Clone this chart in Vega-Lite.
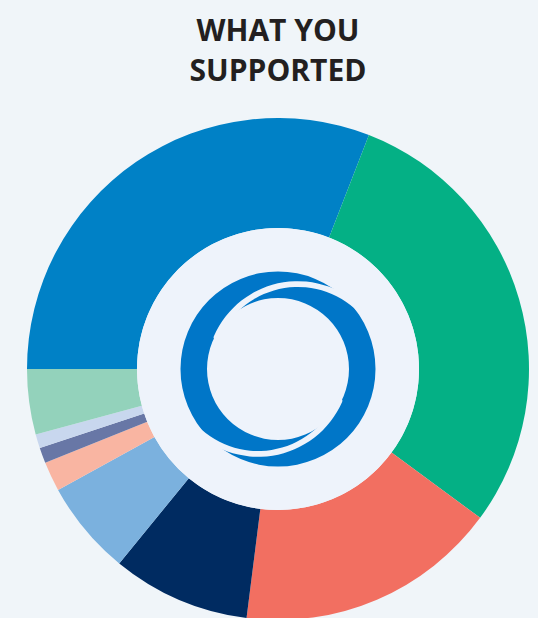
{
  "$schema": "https://vega.github.io/schema/vega-lite/v6.json",
  "width": 520,
  "height": 520,
  "autosize": {"type": "none"},
  "padding": {"left": 18, "top": 109, "right": 0, "bottom": 0},
  "background": "#f0f5f9",
  "config": {"view": {"stroke": null}},
  "title": {
    "text": ["WHAT YOU", "SUPPORTED"],
    "font": "Open Sans",
    "fontSize": 30,
    "fontWeight": 700,
    "color": "#231f20",
    "anchor": "middle",
    "frame": "group",
    "lineHeight": 40,
    "baseline": "bottom",
    "offset": 22,
    "dy": 30
  },
  "datasets": {
    "segments": [
      {"category": "Category 1", "rank": 1, "share": 30.9},
      {"category": "Category 2", "rank": 2, "share": 29.2},
      {"category": "Category 3", "rank": 3, "share": 16.9},
      {"category": "Category 4", "rank": 4, "share": 8.9},
      {"category": "Category 5", "rank": 5, "share": 6.1},
      {"category": "Category 6", "rank": 6, "share": 1.9},
      {"category": "Category 7", "rank": 7, "share": 1.0},
      {"category": "Category 8", "rank": 8, "share": 0.9},
      {"category": "Category 9", "rank": 9, "share": 4.2}
    ]
  },
  "layer": [
    {
      "data": {"name": "segments"},
      "mark": {"type": "arc", "radius": 251, "radius2": 141, "strokeWidth": 0},
      "encoding": {
        "theta": {"field": "share", "type": "quantitative", "stack": true, "scale": {"range": [4.71239, 10.99557]}},
        "order": {"field": "rank", "type": "quantitative"},
        "color": {
          "field": "category",
          "type": "nominal",
          "scale": {
            "domain": ["Category 1", "Category 2", "Category 3", "Category 4", "Category 5", "Category 6", "Category 7", "Category 8", "Category 9"],
            "range": ["#0081c6", "#04b085", "#f26f61", "#002b61", "#7bb1de", "#f9b5a2", "#6877a6", "#c8d7ee", "#93d2bb"]
          },
          "legend": null
        }
      }
    },
    {
      "data": {"values": [{"part": "centre"}]},
      "mark": {"type": "arc", "theta": 0, "theta2": 6.2832, "radius": 141, "radius2": 0, "color": "#eef3fb"},
      "encoding": {}
    },
    {
      "data": {"values": [{"part": "logo ring"}]},
      "mark": {"type": "arc", "theta": 0, "theta2": 6.2832, "radius": 97.5, "radius2": 71, "color": "#0076c8"},
      "encoding": {}
    },
    {
      "data": {"values": [{"part": "logo upper slit"}]},
      "mark": {"type": "arc", "theta": -1.187, "theta2": 0.873, "radius": 91.6, "radius2": 85.8, "cornerRadius": 2.5, "x": {"expr": "width / 2 + 19.8"}, "y": {"expr": "height / 2 + 3.8"}, "color": "#eef3fb"},
      "encoding": {}
    },
    {
      "data": {"values": [{"part": "logo lower slit"}]},
      "mark": {"type": "arc", "theta": 1.955, "theta2": 4.014, "radius": 91.6, "radius2": 85.8, "cornerRadius": 2.5, "x": {"expr": "width / 2 - 19.8"}, "y": {"expr": "height / 2 - 3.8"}, "color": "#eef3fb"},
      "encoding": {}
    }
  ]
}
